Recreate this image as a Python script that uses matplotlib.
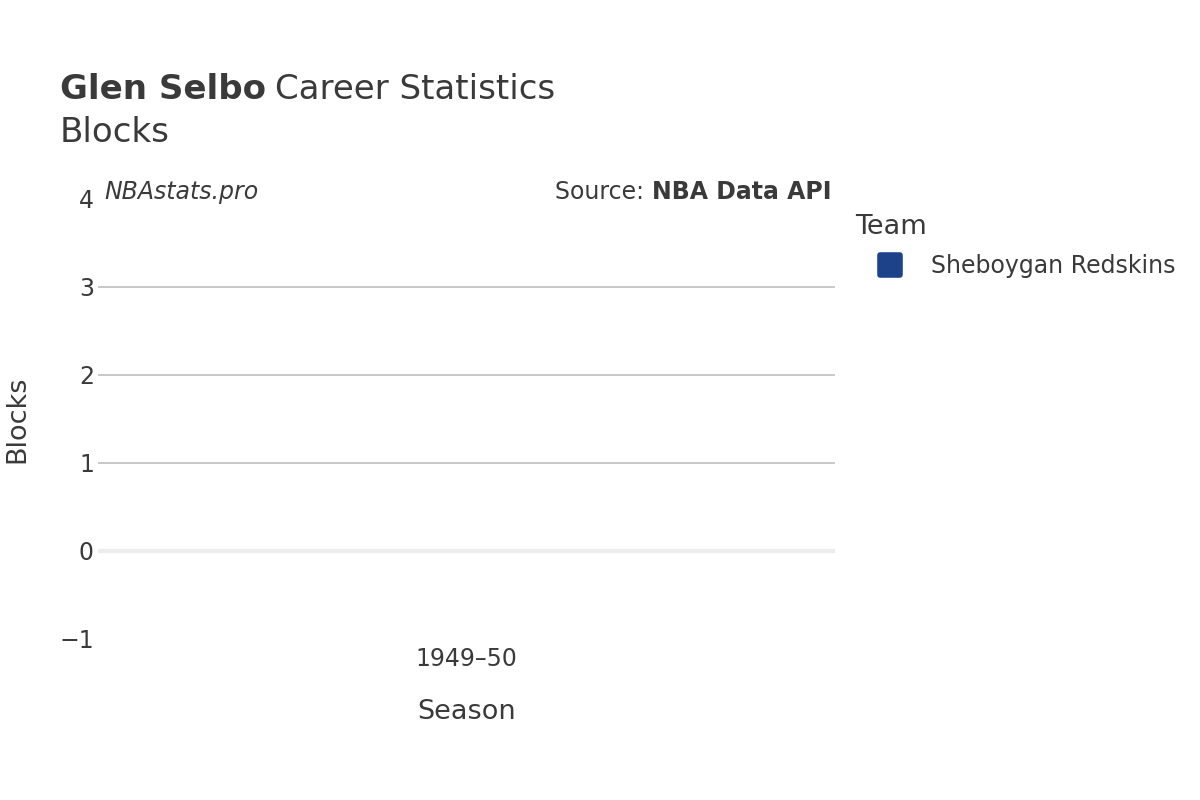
import matplotlib.pyplot as plt
from matplotlib.lines import Line2D
from matplotlib.markers import MarkerStyle

# Data
seasons = ['1949–50']
blocks = [0]
team = 'Sheboygan Redskins'
team_color = '#1d428a'

y_ticks = [-1, 0, 1, 2, 3, 4]

plt.rcParams['font.family'] = ['DejaVu Sans']
text_color = '#3a3a3a'

fig = plt.figure(figsize=(12, 8), dpi=100)
ax = fig.add_axes([0.0817, 0.20125, 0.6142, 0.55])

ax.bar(seasons, blocks, color=team_color, width=0.6, zorder=3)

ax.set_ylim(-1, 4)
ax.set_xlim(-0.5, 0.5)
ax.set_yticks(y_ticks)
ax.set_yticklabels(['−1', '0', '1', '2', '3', '4'])
for y in [1, 2, 3]:
    ax.axhline(y, color='#c4c4c4', linewidth=1.3, zorder=1)
ax.axhline(0, color='#ececec', linewidth=3, zorder=2)

for s in ax.spines.values():
    s.set_visible(False)
ax.tick_params(axis='both', length=0, labelsize=17, colors=text_color, pad=3)
ax.tick_params(axis='x', pad=6)

ax.set_xlabel('Season', fontsize=19.5, color=text_color, labelpad=20)
ax.set_ylabel('Blocks', fontsize=19.5, color=text_color, labelpad=21)

# Titles
fig.canvas.draw()
r = fig.canvas.get_renderer()
t1 = fig.text(0.05, 0.888, 'Glen Selbo', fontsize=24.5, fontweight='bold', color=text_color, va='center')
w = t1.get_window_extent(r).width
fig.text(0.05 + (w + 9) / 1200, 0.888, 'Career Statistics', fontsize=24.5, color=text_color, va='center')
fig.text(0.05, 0.834, 'Blocks', fontsize=24.5, color=text_color, va='center')

# Watermark and source
ax.text(0.008, 1.016, 'NBAstats.pro', transform=ax.transAxes, fontsize=17,
        style='italic', color=text_color, va='center', ha='left')
src = ax.text(0.995, 1.016, 'NBA Data API', transform=ax.transAxes, fontsize=17,
              fontweight='bold', color=text_color, va='center', ha='right')
bw = src.get_window_extent(r).width
ax.text(0.995 - bw / ax.get_window_extent(r).width, 1.016, 'Source: ', transform=ax.transAxes,
        fontsize=17, color=text_color, va='center', ha='right')

# Legend
fig.text(855 / 1200, 1 - 227 / 800, 'Team', fontsize=19.5, color=text_color, va='center')
fig.add_artist(Line2D([890 / 1200], [1 - 265 / 800], transform=fig.transFigure,
                      marker=MarkerStyle('s', joinstyle='round'), linestyle='none',
                      markersize=14, markeredgewidth=4,
                      markerfacecolor=team_color, markeredgecolor=team_color))
fig.text(931 / 1200, 1 - 266 / 800, team, fontsize=17, color=text_color, va='center')

fig.savefig('out.png', dpi=100)
